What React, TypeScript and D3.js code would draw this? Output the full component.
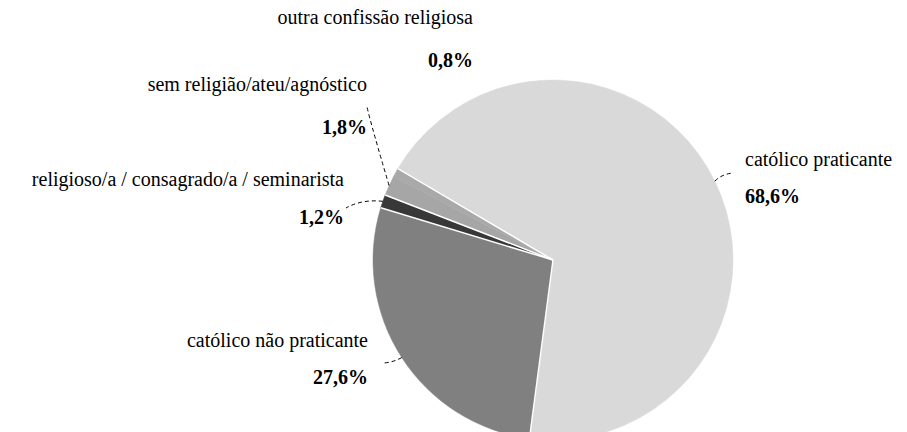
import React from 'react';
import * as d3 from 'd3';

const categories = [
  'católico praticante',
  'católico não praticante',
  'religioso/a / consagrado/a / seminarista',
  'sem religião/ateu/agnóstico',
  'outra confissão religiosa',
];
const values = [68.6, 27.6, 1.2, 1.8, 0.8];
const colors = ['#d9d9d9', '#808080', '#383838', '#a6a6a6', '#a9a9a9'];

// label placement: x, label baseline, percent baseline, anchor, leader end
const labelLayout = [
  { x: 745, y1: 166, y2: 203, anchor: 'start', end: [733, 173], ctrl: [722, 174] },
  { x: 368, y1: 347, y2: 384, anchor: 'end', end: [384, 363], ctrl: [394, 362] },
  { x: 344, y1: 186, y2: 224, anchor: 'end', end: [346, 208], ctrl: [362, 199] },
  { x: 367, y1: 91, y2: 134, anchor: 'end', end: [367, 107], ctrl: [372, 128] },
  { x: 473, y1: 24, y2: 67, anchor: 'end', end: null, ctrl: null },
];

const width = 907;
const height = 432;
const cx = 553;
const cy = 260;
const radius = 180;
const serif = '"Liberation Serif"';

const fmt = (v: number) => v.toFixed(1).replace('.', ',') + '%';

export default function App() {
  const pieGen = d3.pie<number>()
    .value(d => d)
    .sort(null)
    .startAngle(-59.46 * Math.PI / 180)
    .endAngle((360 - 59.46) * Math.PI / 180);

  const arcData = pieGen(values);

  const arcGen = d3.arc<d3.PieArcDatum<number>>()
    .innerRadius(0)
    .outerRadius(radius);

  const edgeArc = d3.arc<d3.PieArcDatum<number>>()
    .innerRadius(radius)
    .outerRadius(radius);

  // white separators between slices (the last two share one colour, no line between them)
  const separators = arcData.filter((d, i) => i !== 4).map(d => d.startAngle);

  return (
    <svg width={width} height={height}
      style={{ position: 'absolute', left: 0, top: 0, background: '#fff' }}>
      <g transform={`translate(${cx},${cy})`}>
        {arcData.map((d, i) => (
          <path key={i} d={arcGen(d) || ''} fill={colors[i]} stroke={colors[i]} strokeWidth={0.5} />
        ))}
        {separators.map((a, i) => (
          <line key={'s' + i} x1={0} y1={0}
            x2={Math.sin(a) * radius} y2={-Math.cos(a) * radius}
            stroke="#fff" strokeWidth={1.5} />
        ))}
      </g>
      {arcData.map((d, i) => {
        const lay = labelLayout[i];
        if (!lay.end) return null;
        const [px, py] = edgeArc.centroid(d);
        const sx = cx + px, sy = cy + py;
        return (
          <path key={'l' + i}
            d={`M${sx},${sy} Q${lay.ctrl![0]},${lay.ctrl![1]} ${lay.end[0]},${lay.end[1]}`}
            fill="none" stroke="#000" strokeWidth={1} strokeDasharray="4,3" />
        );
      })}
      {categories.map((c, i) => {
        const lay = labelLayout[i];
        return (
          <g key={'t' + i}>
            <text x={lay.x} y={lay.y1} textAnchor={lay.anchor} fill="#000"
              fontSize={20} style={{ fontFamily: serif }}>{c}</text>
            <text x={lay.x} y={lay.y2} textAnchor={lay.anchor} fill="#000"
              fontSize={20} fontWeight="bold" style={{ fontFamily: serif }}>{fmt(values[i])}</text>
          </g>
        );
      })}
    </svg>
  );
}
